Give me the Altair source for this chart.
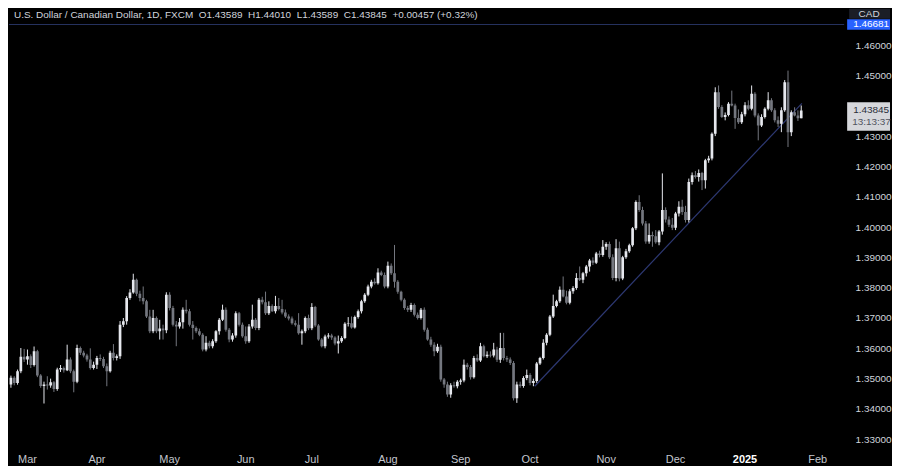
import altair as alt
import pandas as pd

# ---- OHLC (USD/CAD daily) ----
opens = [1.3481,1.3503,1.3486,1.3524,1.3572,1.3563,1.3574,1.3545,1.3590,1.3510,
1.3476,1.3481,1.3477,1.3488,1.3466,1.3530,1.3535,1.3528,1.3563,1.3524,
1.3490,1.3601,1.3585,1.3576,1.3563,1.3535,1.3546,1.3568,1.3565,1.3541,
1.3524,1.3585,1.3568,1.3574,1.3678,1.3689,1.3766,1.3784,1.3826,1.3780,
1.3766,1.3755,1.3705,1.3656,1.3700,1.3656,1.3665,1.3660,1.3777,1.3733,
1.3678,1.3672,1.3686,1.3727,1.3722,1.3678,1.3667,1.3656,1.3645,1.3596,
1.3618,1.3607,1.3623,1.3656,1.3694,1.3727,1.3661,1.3629,1.3642,1.3716,
1.3678,1.3640,1.3623,1.3672,1.3694,1.3667,1.3760,1.3752,1.3716,1.3740,
1.3722,1.3740,1.3730,1.3718,1.3705,1.3698,1.3683,1.3678,1.3650,1.3656,
1.3700,1.3666,1.3736,1.3675,1.3629,1.3607,1.3639,1.3642,1.3636,1.3616,
1.3623,1.3634,1.3681,1.3683,1.3669,1.3703,1.3722,1.3755,1.3777,1.3804,
1.3820,1.3815,1.3850,1.3842,1.3804,1.3872,1.3848,1.3820,1.3787,1.3760,
1.3733,1.3727,1.3743,1.3711,1.3700,1.3727,1.3661,1.3629,1.3612,1.3590,
1.3605,1.3497,1.3481,1.3448,1.3478,1.3475,1.3490,1.3494,1.3546,1.3538,
1.3505,1.3568,1.3560,1.3607,1.3574,1.3579,1.3576,1.3596,1.3562,1.3601,
1.3568,1.3563,1.3552,1.3435,1.3481,1.3476,1.3502,1.3512,1.3486,1.3492,
1.3550,1.3568,1.3618,1.3645,1.3705,1.3740,1.3755,1.3793,1.3771,1.3750,
1.3788,1.3799,1.3832,1.3826,1.3848,1.3870,1.3890,1.3882,1.3913,1.3908,
1.3935,1.3944,1.3900,1.3832,1.3930,1.3830,1.3900,1.3920,1.3940,1.3996,
1.4083,1.4056,1.4012,1.3952,1.3974,1.3970,1.3950,1.3985,1.4056,1.4025,
1.4008,1.3998,1.4045,1.4067,1.4050,1.4023,1.4149,1.4171,1.4165,1.4178,
1.4154,1.4220,1.4226,1.4308,1.4445,1.4396,1.4363,1.4370,1.4407,1.4401,
1.4360,1.4346,1.4372,1.4402,1.4390,1.4440,1.4368,1.4335,1.4363,1.4390,
1.4418,1.4385,1.4352,1.4341,1.4385,1.4478,1.4313,1.4379,1.4368,1.43589]

highs = [1.3510,1.3508,1.3530,1.3601,1.3598,1.3596,1.3580,1.3606,1.3595,1.3515,
1.3490,1.3508,1.3500,1.3492,1.3536,1.3545,1.3540,1.3612,1.3570,1.3530,
1.3612,1.3606,1.3592,1.3582,1.3600,1.3556,1.3575,1.3580,1.3572,1.3550,
1.3592,1.3614,1.3580,1.3690,1.3700,1.3772,1.3795,1.3846,1.3830,1.3790,
1.3804,1.3760,1.3727,1.3727,1.3705,1.3694,1.3678,1.3785,1.3785,1.3740,
1.3690,1.3700,1.3735,1.3760,1.3730,1.3690,1.3672,1.3665,1.3650,1.3640,
1.3625,1.3630,1.3660,1.3700,1.3744,1.3735,1.3667,1.3650,1.3722,1.3720,
1.3685,1.3672,1.3680,1.3744,1.3700,1.3766,1.3770,1.3787,1.3755,1.3745,
1.3773,1.3766,1.3760,1.3728,1.3712,1.3705,1.3692,1.3716,1.3662,1.3705,
1.3711,1.3749,1.3740,1.3680,1.3634,1.3645,1.3650,1.3648,1.3640,1.3642,
1.3640,1.3686,1.3703,1.3705,1.3708,1.3728,1.3760,1.3782,1.3810,1.3826,
1.3831,1.3864,1.3856,1.3850,1.3886,1.3880,1.3941,1.3825,1.3790,1.3765,
1.3740,1.3750,1.3748,1.3718,1.3733,1.3735,1.3668,1.3638,1.3620,1.3615,
1.3612,1.3502,1.3490,1.3485,1.3490,1.3495,1.3500,1.3563,1.3552,1.3545,
1.3575,1.3580,1.3618,1.3612,1.3590,1.3590,1.3618,1.3605,1.3651,1.3651,
1.3575,1.3570,1.3558,1.3490,1.3490,1.3508,1.3530,1.3518,1.3500,1.3555,
1.3572,1.3630,1.3650,1.3710,1.3777,1.3760,1.3804,1.3837,1.3790,1.3795,
1.3805,1.3848,1.3870,1.3852,1.3875,1.3895,1.3900,1.3918,1.3922,1.3957,
1.3950,1.3952,1.3910,1.3960,1.3952,1.3905,1.3928,1.3945,1.4000,1.4088,
1.4105,1.4067,1.4020,1.4012,1.3985,1.3990,1.3990,1.4177,1.4065,1.4035,
1.4030,1.4050,1.4085,1.4090,1.4070,1.4160,1.4180,1.4185,1.4190,1.4182,
1.4225,1.4235,1.4312,1.4461,1.4467,1.4402,1.4378,1.4412,1.4450,1.4407,
1.4388,1.4380,1.4412,1.4418,1.4467,1.4445,1.4375,1.4372,1.4395,1.4445,
1.4425,1.4392,1.4365,1.4395,1.4485,1.4516,1.4385,1.4395,1.4385,1.44010]

lows = [1.3470,1.3478,1.3480,1.3518,1.3555,1.3546,1.3535,1.3540,1.3505,1.3470,
1.3418,1.3464,1.3470,1.3456,1.3460,1.3522,1.3520,1.3525,1.3518,1.3455,
1.3485,1.3578,1.3570,1.3556,1.3530,1.3530,1.3532,1.3558,1.3535,1.3475,
1.3520,1.3560,1.3560,1.3565,1.3670,1.3678,1.3760,1.3780,1.3772,1.3755,
1.3745,1.3700,1.3650,1.3650,1.3650,1.3629,1.3629,1.3650,1.3725,1.3672,
1.3607,1.3665,1.3665,1.3715,1.3672,1.3629,1.3650,1.3640,1.3590,1.3590,
1.3600,1.3600,1.3618,1.3645,1.3690,1.3655,1.3620,1.3622,1.3635,1.3672,
1.3635,1.3615,1.3618,1.3665,1.3660,1.3660,1.3745,1.3710,1.3710,1.3720,
1.3715,1.3725,1.3712,1.3700,1.3692,1.3678,1.3672,1.3645,1.3612,1.3650,
1.3660,1.3660,1.3670,1.3625,1.3603,1.3600,1.3632,1.3628,1.3610,1.3583,
1.3618,1.3630,1.3672,1.3665,1.3665,1.3698,1.3715,1.3750,1.3772,1.3798,
1.3810,1.3810,1.3838,1.3798,1.3798,1.3842,1.3800,1.3780,1.3755,1.3727,
1.3720,1.3720,1.3705,1.3695,1.3695,1.3655,1.3625,1.3605,1.3574,1.3585,
1.3490,1.3470,1.3440,1.3437,1.3470,1.3468,1.3480,1.3488,1.3530,1.3497,
1.3500,1.3555,1.3555,1.3570,1.3568,1.3570,1.3570,1.3555,1.3552,1.3560,
1.3555,1.3545,1.3428,1.3420,1.3470,1.3470,1.3495,1.3478,1.3475,1.3486,
1.3545,1.3563,1.3610,1.3640,1.3700,1.3735,1.3750,1.3768,1.3745,1.3745,
1.3780,1.3793,1.3822,1.3815,1.3837,1.3853,1.3875,1.3878,1.3900,1.3902,
1.3925,1.3895,1.3825,1.3821,1.3821,1.3825,1.3895,1.3915,1.3935,1.3990,
1.4050,1.4005,1.3945,1.3945,1.3935,1.3945,1.3940,1.3975,1.4015,1.4000,
1.3990,1.3990,1.4035,1.4040,1.4015,1.4015,1.4140,1.4160,1.4150,1.4122,
1.4127,1.4212,1.4220,1.4300,1.4390,1.4360,1.4352,1.4365,1.4398,1.4324,
1.4340,1.4340,1.4365,1.4385,1.4385,1.4362,1.4286,1.4330,1.4358,1.4385,
1.4380,1.4345,1.4330,1.4313,1.4380,1.4264,1.4300,1.4365,1.4350,1.43589]

closes = [1.3503,1.3486,1.3524,1.3572,1.3563,1.3574,1.3545,1.3590,1.3510,1.3476,
1.3481,1.3477,1.3488,1.3466,1.3530,1.3535,1.3528,1.3563,1.3524,1.3490,
1.3601,1.3585,1.3576,1.3563,1.3535,1.3546,1.3568,1.3565,1.3541,1.3524,
1.3585,1.3568,1.3574,1.3678,1.3689,1.3766,1.3784,1.3826,1.3780,1.3766,
1.3755,1.3705,1.3656,1.3700,1.3656,1.3665,1.3660,1.3777,1.3733,1.3678,
1.3672,1.3686,1.3727,1.3722,1.3678,1.3667,1.3656,1.3645,1.3596,1.3618,
1.3607,1.3623,1.3656,1.3694,1.3727,1.3661,1.3629,1.3642,1.3716,1.3678,
1.3640,1.3623,1.3672,1.3694,1.3667,1.3760,1.3752,1.3716,1.3740,1.3722,
1.3740,1.3730,1.3718,1.3705,1.3698,1.3683,1.3678,1.3650,1.3656,1.3700,
1.3666,1.3736,1.3675,1.3629,1.3607,1.3639,1.3642,1.3636,1.3616,1.3623,
1.3634,1.3681,1.3683,1.3669,1.3703,1.3722,1.3755,1.3777,1.3804,1.3820,
1.3815,1.3850,1.3842,1.3804,1.3872,1.3848,1.3820,1.3787,1.3760,1.3733,
1.3727,1.3743,1.3711,1.3700,1.3727,1.3661,1.3629,1.3612,1.3590,1.3605,
1.3497,1.3481,1.3448,1.3478,1.3475,1.3490,1.3494,1.3546,1.3538,1.3505,
1.3568,1.3560,1.3607,1.3574,1.3579,1.3576,1.3596,1.3562,1.3601,1.3568,
1.3563,1.3552,1.3435,1.3481,1.3476,1.3502,1.3512,1.3486,1.3492,1.3550,
1.3568,1.3618,1.3645,1.3705,1.3740,1.3755,1.3793,1.3771,1.3750,1.3788,
1.3799,1.3832,1.3826,1.3848,1.3870,1.3890,1.3882,1.3913,1.3908,1.3935,
1.3944,1.3900,1.3832,1.3930,1.3830,1.3900,1.3920,1.3940,1.3996,1.4083,
1.4056,1.4012,1.3952,1.3974,1.3970,1.3950,1.3985,1.4056,1.4025,1.4008,
1.3998,1.4045,1.4067,1.4050,1.4023,1.4149,1.4171,1.4165,1.4178,1.4154,
1.4220,1.4226,1.4308,1.4445,1.4396,1.4363,1.4370,1.4407,1.4401,1.4360,
1.4346,1.4372,1.4402,1.4390,1.4440,1.4368,1.4335,1.4363,1.4390,1.4418,
1.4385,1.4352,1.4341,1.4385,1.4478,1.4313,1.4379,1.4368,1.4359,1.43845]

# month tick labels (bar index of first trading day of each month)
month_labels = ["Mar", "Apr", "May", "Jun", "Jul", "Aug", "Sep", "Oct", "Nov", "Dec", "2025", "Feb"]
month_pos = [5, 26, 48, 71, 91, 114, 136, 157, 180, 201, 222, 244]

# 1.44000 sits behind the live-price box in the reference
price_ticks = [1.33, 1.34, 1.35, 1.36, 1.37, 1.38, 1.39, 1.40, 1.41, 1.42, 1.43, 1.45, 1.46]

trend_idx = [158.4, 239.2]
trend_price = [1.3475, 1.4408]

alert_level = 1.46681
last_price = 1.43845
NB = "\u00a0\u00a0"
header = ("U.S. Dollar / Canadian Dollar, 1D, FXCM" + NB + "O1.43589" + NB + "H1.44010" + NB
          + "L1.43589" + NB + "C1.43845" + NB + "+0.00457 (+0.32%)")

# ---- build frames ----
n = len(closes)
df = pd.DataFrame({
    "idx": list(range(n)),
    "open": opens[:n], "high": highs[:n], "low": lows[:n], "close": closes[:n],
})
df["dir"] = ["up" if c >= o else "down" for o, c in zip(df["open"], df["close"])]

W, H = 838, 438
xdom = [0.923, 0.923 + W / 3.358]
ydom = [1.472 - H / 3042.0, 1.472]
FONT = "Liberation Sans"

def X(field):
    return alt.X(field, type="quantitative", scale=alt.Scale(domain=xdom, nice=False, zero=False), axis=None)

def Y(field):
    return alt.Y(field, type="quantitative", scale=alt.Scale(domain=ydom, nice=False, zero=False),
                 axis=alt.Axis(orient="right", values=price_ticks, format=".5f", grid=False,
                               domain=False, ticks=False, labelPadding=11, labelFontSize=10,
                               labelFont=FONT, labelColor="#d1d4dc", title=None))

col = alt.Color("dir:N", scale=alt.Scale(domain=["up", "down"], range=["#e6e8ee", "#74777f"]), legend=None)

base = alt.Chart(df)
wicks = base.mark_rule(strokeWidth=1, clip=True).encode(x=X("idx"), y=Y("low"), y2="high:Q", color=col)
bodies = base.mark_bar(size=2.7, clip=True).encode(x=X("idx"), y=Y("open"), y2="close:Q", color=col)

trend = alt.Chart(pd.DataFrame({"idx": trend_idx, "price": trend_price})).mark_line(
    color="#2d3872", strokeWidth=1.2, clip=True
).encode(x=X("idx"), y=Y("price"))

hline = alt.Chart(pd.DataFrame({"price": [alert_level]})).mark_rule(
    color="#25315e", strokeWidth=1
).encode(y=Y("price"))

months = pd.DataFrame({"idx": month_pos, "label": month_labels, "py": [ydom[0]] * len(month_pos)})
mtext = alt.Chart(months).transform_filter("datum.label != '2025'").mark_text(
    fontSize=11, font=FONT, baseline="middle", align="center", color="#c3c6ce", dy=15
).encode(x=X("idx"), y=Y("py"), text="label:N")
mtext_b = alt.Chart(months).transform_filter("datum.label == '2025'").mark_text(
    fontSize=11, font=FONT, baseline="middle", align="center", color="#ffffff", fontWeight="bold", dy=15
).encode(x=X("idx"), y=Y("py"), text="label:N")

# header text anchored at first bar / top of scale
head_df = pd.DataFrame({"t": [header], "idx": [xdom[0]], "py": [ydom[1]]})
htext = alt.Chart(head_df).mark_text(
    fontSize=10, font=FONT, align="left", baseline="top", color="#d1d4dc", dy=1
).encode(x=X("idx"), y=Y("py"), text="t:N")

# right-side price labels
alert_df = pd.DataFrame({"p": [alert_level], "p1": [alert_level + 0.0017], "p2": [alert_level - 0.0017],
                         "t": [f"{alert_level:.5f}"]})
alert_box = alt.Chart(alert_df).mark_rect(color="#2962ff").encode(
    x=alt.value(W + 3), x2=alt.value(W + 46), y=Y("p1"), y2="p2:Q")
alert_txt = alt.Chart(alert_df).mark_text(fontSize=10, font=FONT, color="#ffffff", align="left", baseline="middle").encode(
    x=alt.value(W + 9), y=Y("p"), text="t:N")

last_df = pd.DataFrame({"p": [last_price], "p1": [last_price + 0.0027], "p2": [last_price - 0.0067],
                        "t": [f"{last_price:.5f}"], "t2": ["13:13:37"]})
last_box = alt.Chart(last_df).mark_rect(color="#d6d7db").encode(
    x=alt.value(W + 3), x2=alt.value(W + 46), y=Y("p1"), y2="p2:Q")
last_txt = alt.Chart(last_df).mark_text(fontSize=10, font=FONT, color="#2a2e39", align="left", baseline="middle").encode(
    x=alt.value(W + 9), y=Y("p"), text="t:N")
last_txt2 = alt.Chart(last_df).mark_text(fontSize=10, font=FONT, color="#50535e", align="left", baseline="middle", dy=12).encode(
    x=alt.value(W + 8), y=Y("p"), text="t2:N")

cad_df = pd.DataFrame({"t": ["CAD"], "top": [ydom[1]], "bot": [alert_level + 0.0019],
                       "mid": [(ydom[1] + alert_level + 0.0019) / 2]})
cad_box = alt.Chart(cad_df).mark_rect(color="#1b1e27").encode(
    x=alt.value(W + 5), x2=alt.value(W + 46), y=Y("top"), y2="bot:Q")
cad_txt = alt.Chart(cad_df).mark_text(fontSize=10, font=FONT, color="#d1d4dc", align="center", baseline="middle").encode(
    x=alt.value(W + 25), y=Y("mid"), text="t:N")

chart = alt.layer(
    hline, trend, wicks, bodies, mtext, mtext_b, htext,
    alert_box, alert_txt, last_box, last_txt, last_txt2, cad_box, cad_txt
).properties(width=W, height=H, padding=0, background="#000000").configure_view(stroke=None)

chart.save("out.html", embed_options={"renderer": "svg", "actions": False})
